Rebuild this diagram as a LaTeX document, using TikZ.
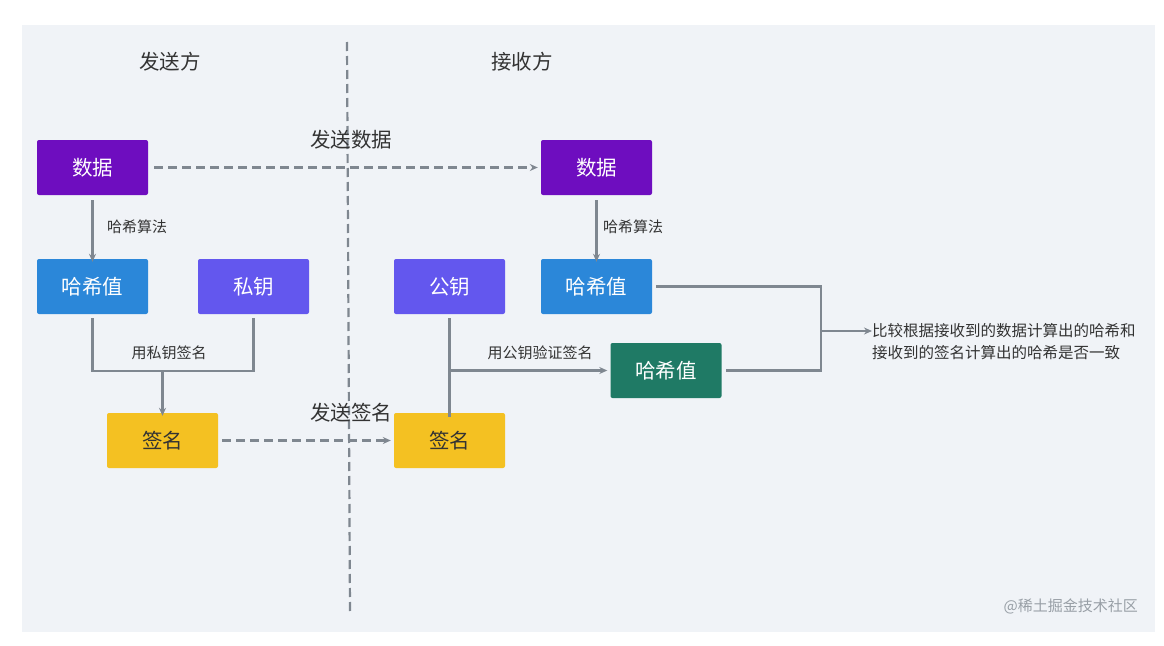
\documentclass[tikz,border=0pt]{standalone}
\usepackage{fontspec}
\setmainfont{Noto Sans CJK SC}
\usetikzlibrary{arrows.meta}
\definecolor{bgc}{HTML}{F0F3F7}
\definecolor{cdata}{HTML}{6E0DBF}
\definecolor{chash}{HTML}{2B87D9}
\definecolor{ckey}{HTML}{6357EE}
\definecolor{csig}{HTML}{F4C122}
\definecolor{cgreen}{HTML}{1F7A65}
\definecolor{cline}{HTML}{7F8790}
\definecolor{ctext}{HTML}{333333}
\tikzset{
  x=1pt,y=-1pt,
  box/.style={rounded corners=2pt, minimum width=111pt, minimum height=55pt, inner sep=0pt, font=\fontsize{20.5}{24}\selectfont, text=white},
  conn/.style={draw=cline, line width=2.2pt},
  arr/.style={conn, -{Stealth[length=8pt,width=7pt]}},
  dashconn/.style={draw=cline, line width=2.2pt, dash pattern=on 9pt off 5pt, -{Stealth[length=8pt,width=7pt]}},
  lbl/.style={font=\fontsize{15}{18}\selectfont, text=ctext, inner sep=0pt},
  big/.style={font=\fontsize{20.5}{24}\selectfont, text=ctext, inner sep=0pt},
}
\begin{document}
\begin{tikzpicture}
\useasboundingbox (0,0) rectangle (1164,645);
\fill[white] (0,0) rectangle (1164,645);
\fill[bgc] (22,25) rectangle (1155,632);
% divider
\coordinate (dtop) at (347,42);
\coordinate (dbot) at (350,612);
\draw[draw=cline, line width=2.2pt, dash pattern=on 9pt off 5pt] (dtop) -- (dbot);
% titles
\node[big] (ts) at (170,62) {发送方};
\node[big] (tr) at (522,62) {接收方};
% boxes
\node[box, fill=cdata] (sd) at (92.5,167.5) {数据};
\node[box, fill=chash] (sh) at (92.5,286.5) {哈希值};
\node[box, fill=ckey] (sk) at (253.5,286.5) {私钥};
\node[box, fill=csig, text=ctext] (ss) at (162.5,440.5) {签名};
\node[box, fill=cdata] (rd) at (596.5,167.5) {数据};
\node[box, fill=chash] (rh) at (596.5,286.5) {哈希值};
\node[box, fill=ckey] (rk) at (449.5,286.5) {公钥};
\node[box, fill=csig, text=ctext] (rs) at (449.5,440.5) {签名};
\node[box, fill=cgreen] (rg) at (666,370.5) {哈希值};
% send labels
\node[big] (l1) at (351,140) {发送数据};
\node[big] (l2) at (351,413) {发送签名};
% dashed transfers
\draw[dashconn] ([xshift=6pt]sd.east) -- ([xshift=-3pt]rd.west);
\draw[dashconn] ([xshift=4pt]ss.east) -- ([xshift=-3pt]rs.west);
% hash arrows
\draw[arr] ([yshift=-5pt]sd.south) -- ([yshift=-3pt]sh.north);
\node[lbl, anchor=west] (ha1) at (107,227) {哈希算法};
\draw[arr] ([yshift=-5pt]rd.south) -- ([yshift=-3pt]rh.north);
\node[lbl, anchor=west] (ha2) at (603,227) {哈希算法};
% sign
\coordinate (j1) at (92.5,371);
\coordinate (j2) at (253.5,371);
\coordinate (jm) at (162.5,371);
\draw[conn] ([yshift=-4pt]sh.south) -- (j1) -- (j2) -- ([yshift=-4pt]sk.south);
\draw[arr] (jm) -- ([yshift=-3pt]ss.north);
\node[lbl] (sl) at (169,353) {用私钥签名};
% verify
\coordinate (vj) at (449.5,370.5);
\draw[conn] ([yshift=-4pt]rk.south) -- ([yshift=-4pt]rs.north);
\draw[arr] (vj) -- ([xshift=-3pt]rg.west);
\node[lbl] (vl) at (540,353) {用公钥验证签名};
% compare
\coordinate (c1) at (821,286.5);
\coordinate (c2) at (821,370.5);
\coordinate (cm) at (821,331);
\draw[conn] ([xshift=4pt]rh.east) -- (c1) -- (c2) -- ([xshift=4pt]rg.east);
\node[lbl, anchor=west, align=left, font=\fontsize{15.5}{22}\selectfont] (ct) at (872,342) {比较根据接收到的数据计算出的哈希和\\接收到的签名计算出的哈希是否一致};
\draw[arr] (cm) -- (ct.west |- cm);
% watermark
\node[lbl, text=cline!80, anchor=east] (wm) at (1138,606) {@稀土掘金技术社区};
\end{tikzpicture}
\end{document}
